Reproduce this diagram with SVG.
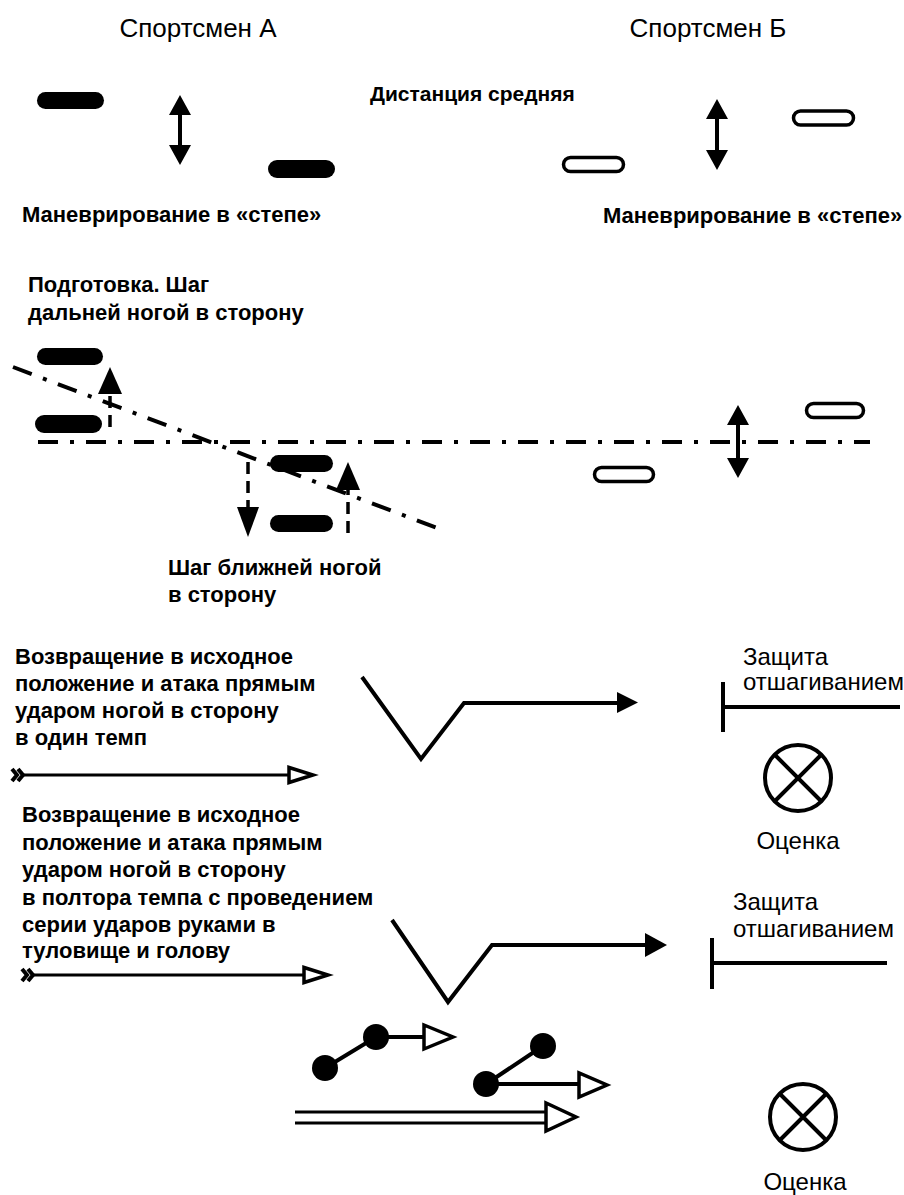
<svg xmlns="http://www.w3.org/2000/svg" width="904" height="1195" viewBox="0 0 904 1195">
<style>
text{font-family:"Liberation Sans",Arial,sans-serif;fill:#000}
.t{font-size:26px}
.b{font-size:22px;font-weight:700}
.r{font-size:24px}
.bp{fill:#000}
.wp{fill:#fff;stroke:#000;stroke-width:3.5}
.ln{fill:none;stroke:#000;stroke-width:4}
.dd{fill:none;stroke:#000;stroke-width:4;stroke-dasharray:20 12 4 12}
.ds{fill:none;stroke:#000;stroke-width:3.5;stroke-dasharray:12 7}
.fh{fill:#000}
.oh{fill:#fff;stroke:#000;stroke-width:3.5;stroke-linejoin:miter}
.th{fill:none;stroke:#000;stroke-width:3}
.tail{fill:none;stroke:#000;stroke-width:4;stroke-linejoin:miter}
</style>
<rect width="904" height="1195" fill="#fff"/>

<g id="titles">
<text class="t" x="198" y="37" text-anchor="middle">Спортсмен А</text>
<text class="t" x="708" y="37" text-anchor="middle">Спортсмен Б</text>
<text class="b" x="370" y="101" style="font-size:21px">Дистанция средняя</text>
</g>

<g id="stance-A-top">
<rect class="bp" x="37" y="92" width="67" height="17" rx="8.5"/>
<rect class="bp" x="268" y="160" width="67" height="18" rx="9"/>
<text class="b" x="22" y="222">Маневрирование в «степе»</text>
</g>

<g id="stance-B-top">
<rect class="wp" x="563.5" y="157.5" width="60" height="14" rx="7"/>
<rect class="wp" x="793.5" y="111" width="60" height="14" rx="7"/>
<text class="b" x="603" y="223">Маневрирование в «степе»</text>
</g>

<g id="prep-label">
<text class="b" x="28" y="292">Подготовка. Шаг</text>
<text class="b" x="28" y="320">дальней ногой в сторону</text>
</g>

<g id="stance-A-prep">
<rect class="bp" x="37" y="348" width="66" height="17" rx="8.5"/>
<rect class="bp" x="35" y="415" width="67" height="18" rx="9"/>
<rect class="bp" x="270" y="455" width="63" height="17" rx="8.5"/>
<rect class="bp" x="270" y="515" width="63" height="17" rx="8.5"/>
</g>

<g id="near-step-label">
<text class="b" x="168" y="575">Шаг ближней ногой</text>
<text class="b" x="168" y="602">в сторону</text>
</g>

<g id="stance-B-mid">
<rect class="wp" x="594.5" y="467.5" width="59" height="14" rx="7"/>
<rect class="wp" x="806.5" y="403.5" width="57" height="14" rx="7"/>
</g>

<g id="attack1-label">
<text class="b" x="15" y="664">Возвращение в исходное</text>
<text class="b" x="15" y="691">положение и атака прямым</text>
<text class="b" x="15" y="718">ударом ногой в сторону</text>
<text class="b" x="15" y="745">в один темп</text>
</g>

<g id="defence1">
<text class="r" x="743" y="665">Защита</text>
<text class="r" x="743" y="690">отшагиванием</text>
<path class="ln" d="M723 682V732M723 707H900"/>
</g>

<g id="score1">
<circle class="ln" cx="798" cy="778" r="33"/>
<path class="ln" d="M775 755L821 801M821 755L775 801"/>
<text class="r" x="798" y="849" text-anchor="middle">Оценка</text>
</g>

<g id="attack2-label">
<text class="b" x="22" y="822">Возвращение в исходное</text>
<text class="b" x="22" y="850">положение и атака прямым</text>
<text class="b" x="22" y="877">ударом ногой в сторону</text>
<text class="b" x="22" y="905">в полтора темпа с проведением</text>
<text class="b" x="22" y="932">серии ударов руками в</text>
<text class="b" x="22" y="958">туловище и голову</text>
</g>

<g id="defence2">
<text class="r" x="733" y="910">Защита</text>
<text class="r" x="733" y="937">отшагиванием</text>
<path class="ln" d="M712 938V989M712 963H887"/>
</g>

<g id="score2">
<circle class="ln" cx="803" cy="1117" r="33"/>
<path class="ln" d="M780 1094L826 1140M826 1094L780 1140"/>
<text class="r" x="805" y="1190" text-anchor="middle">Оценка</text>
</g>

<g id="punches">
<circle class="bp" cx="325" cy="1068" r="13"/>
<circle class="bp" cx="376" cy="1037" r="13"/>
<circle class="bp" cx="543" cy="1046" r="13"/>
<circle class="bp" cx="486" cy="1084" r="13"/>
</g>

<g id="connectors">
<path class="ln" d="M180 112V148"/>
<path class="fh" d="M180 95L169 115H191ZM180 165L169 145H191Z"/>
<path class="ln" d="M717 116V153"/>
<path class="fh" d="M717 99L706 119H728ZM717 170L706 150H728Z"/>
<path class="ln" d="M738 422V461"/>
<path class="fh" d="M738 405L727 425H749ZM738 478L727 458H749Z"/>

<path class="dd" d="M38 442H870"/>
<path class="dd" d="M13 367L437 528"/>

<path class="ds" d="M110 427V392"/>
<path class="fh" d="M110 367L98 394H122Z"/>
<path class="ds" d="M248 462V510"/>
<path class="fh" d="M248 537L237 507H259Z"/>
<path class="ds" d="M348 533V488"/>
<path class="fh" d="M348 462L336 490H360Z"/>

<path class="th" d="M22 775H290"/>
<path class="tail" d="M12 769L17 775L12 781M18 769L23 775L18 781"/>
<path class="oh" d="M289 767.5V782.5L313 775Z"/>

<path class="ln" d="M362 677L421 759L464 703H620" stroke-linejoin="miter"/>
<path class="fh" d="M617 692V713L638 702.5Z"/>

<path class="th" d="M34 975H305"/>
<path class="tail" d="M22 969L27 975L22 981M28 969L33 975L28 981"/>
<path class="oh" d="M304 967.5V982.5L328 975Z"/>

<path class="ln" d="M392 920L448 1002L492 945H648" stroke-linejoin="miter"/>
<path class="fh" d="M645 933V957L667 945Z"/>

<path class="ln" d="M325 1068L376 1037H425"/>
<path class="oh" d="M424 1025V1049L453 1037Z"/>
<path class="ln" d="M543 1046L486 1084H580"/>
<path class="oh" d="M579 1073V1097L607 1085Z"/>

<path class="th" d="M295 1112H547M295 1123H547"/>
<path class="oh" d="M546 1103V1131L576 1117Z"/>
</g>
</svg>
